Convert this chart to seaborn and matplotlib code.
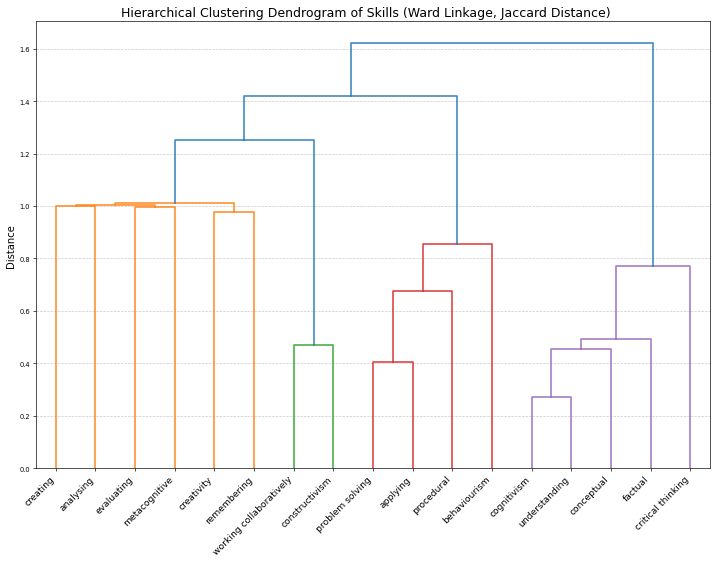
import matplotlib
matplotlib.use("Agg")
import matplotlib.pyplot as plt
import numpy as np
import pandas as pd
import seaborn as sns

# leaf labels in display order
skills = ["creating", "analysing", "evaluating", "metacognitive", "creativity",
          "remembering", "working collaboratively", "constructivism",
          "problem solving", "applying", "procedural", "behaviourism",
          "cognitivism", "understanding", "conceptual", "factual",
          "critical thinking"]

# merges, scipy-style: new node id = len(skills) + row index
merge_left = [12, 8, 17, 6, 19, 18, 21, 22, 4, 2, 0, 27, 28, 29, 30, 31]
merge_right = [13, 9, 14, 7, 15, 10, 16, 11, 5, 3, 1, 26, 25, 20, 24, 23]
merge_height = [0.270, 0.406, 0.456, 0.469, 0.491, 0.675, 0.772, 0.856,
                0.978, 0.995, 1.000, 1.005, 1.012, 1.250, 1.421, 1.623]

n = len(skills)
threshold = 0.7 * max(merge_height)

# leaf x positions like scipy: 5, 15, 25, ...
pos = {i: 5 + 10 * i for i in range(n)}
hgt = {i: 0.0 for i in range(n)}
for k, (a, b, h) in enumerate(zip(merge_left, merge_right, merge_height)):
    pos[n + k] = (pos[a] + pos[b]) / 2
    hgt[n + k] = h

# cluster colours: subtrees below the threshold, numbered left to right
children = {n + k: (a, b) for k, (a, b) in enumerate(zip(merge_left, merge_right))}
colour_of = {}
roots = []
def find_roots(node):
    if hgt[node] < threshold:
        roots.append(node)
        return
    for c in children[node]:
        find_roots(c)
find_roots(n + len(merge_height) - 1)
roots.sort(key=lambda r: pos[r])
def paint(node, col):
    colour_of[node] = col
    if node in children:
        for c in children[node]:
            paint(c, col)
for i, r in enumerate(roots):
    paint(r, "C%d" % (i + 1))

rows = []
for k, (a, b, h) in enumerate(zip(merge_left, merge_right, merge_height)):
    node = n + k
    col = colour_of.get(node, "C0")
    xs = [pos[a], pos[a], pos[b], pos[b]]
    ys = [hgt[a], h, h, hgt[b]]
    for j, (x, y) in enumerate(zip(xs, ys)):
        rows.append({"x": x, "y": y, "link": node, "colour": col, "order": j})
df = pd.DataFrame(rows)

fig = plt.figure(figsize=(12, 9.456), dpi=59.75)
ax = fig.add_axes([0.0502, 0.1695, 0.9400, 0.7910])

palette = {c: matplotlib.colors.to_hex(c) for c in df["colour"].unique()}
sns.lineplot(data=df, x="x", y="y", units="link", hue="colour",
             palette=palette, estimator=None, sort=False, legend=False,
             linewidth=2, alpha=0.85, ax=ax)

ax.set_xlim(0, 10 * n)
ax.set_ylim(0, max(merge_height) * 1.05)
ax.set_xticks([pos[i] for i in range(n)])
ax.set_xticklabels(skills, rotation=45, ha="right", fontsize=11)
ax.tick_params(axis="y", labelsize=8)
ax.set_xlabel("")
ax.set_ylabel("Distance", fontsize=12)
ax.set_title("Hierarchical Clustering Dendrogram of Skills (Ward Linkage, Jaccard Distance)",
             fontsize=15, x=0.489)
ax.grid(axis="y", linestyle="--", alpha=0.7)
ax.set_axisbelow(True)

fig.savefig("out.png", dpi=59.75)
